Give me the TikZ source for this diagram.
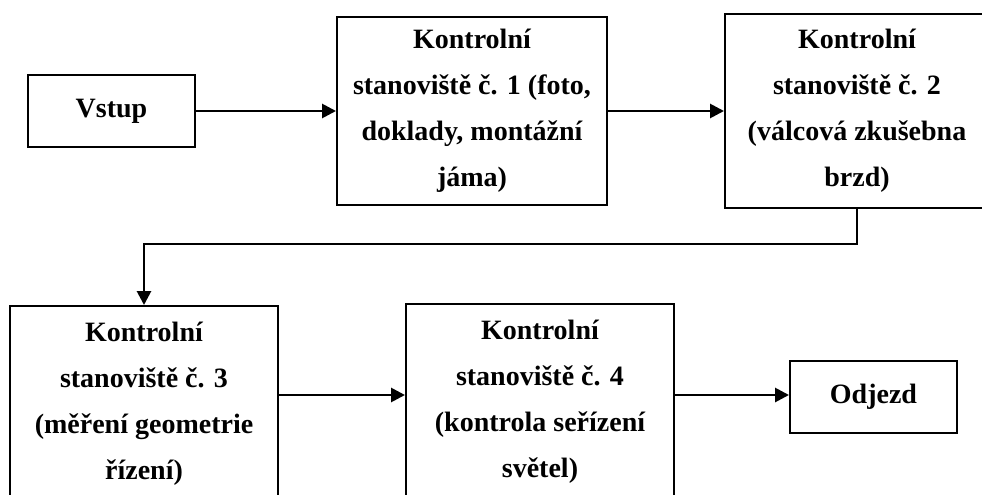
\documentclass[tikz,border=0pt]{standalone}
\usepackage{fontspec}
\setmainfont{Liberation Serif}
\usetikzlibrary{arrows.meta}

\begin{document}
\begin{tikzpicture}[x=1pt,y=-1pt,
    box/.style={draw,line width=2pt,font=\bfseries\fontsize{28}{46}\selectfont,align=center,inner sep=0pt},
    station/.style={box,minimum width=268pt,minimum height=196pt},
    endbox/.style={box,minimum width=167pt,minimum height=72pt},
    arr/.style={line width=2.8pt,-{Triangle[length=14pt,width=14pt]}}]
  \clip (0,0) rectangle (982,495);
  \node[endbox] (0) at (111.5,111) {Vstup};
  \node[station,minimum width=270pt,minimum height=188pt] (1) at (472,111) {Kontrolní\\stanoviště č. 1 (foto,\\doklady, montážní\\jáma)};
  \node[station,minimum width=264pt,minimum height=194pt] (2) at (857,111) {Kontrolní\\stanoviště č. 2\\(válcová zkušebna\\brzd)};
  \node[station] (3) at (144,404) {Kontrolní\\stanoviště č. 3\\(měření geometrie\\řízení)};
  \node[station] (4) at (540,402) {Kontrolní\\stanoviště č. 4\\(kontrola seřízení\\světel)};
  \node[endbox] (5) at (873.5,397) {Odjezd};
  \coordinate (r) at (0,395);
  \draw[arr] (0) -- (1);
  \draw[arr] (1) -- (2);
  \draw[arr] (2.south) -- ++(0,35) -| (3.north);
  \draw[arr] (3.east |- r) -- (4.west |- r);
  \draw[arr] (4.east |- r) -- (5.west |- r);
\end{tikzpicture}
\end{document}
